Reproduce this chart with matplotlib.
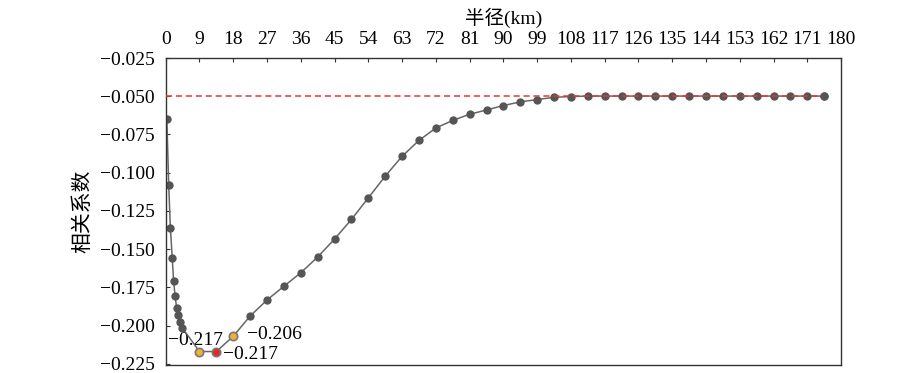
import matplotlib
matplotlib.use("Agg")
import matplotlib.pyplot as plt

# datos
radio = [0.3, 0.8, 1.25, 1.75, 2.1, 2.5, 2.9, 3.4, 3.8, 4.4,
         9, 13.5, 18, 22.5, 27, 31.5, 36, 40.5, 45, 49.5, 54, 58.5, 63, 67.5,
         72, 76.5, 81, 85.5, 90, 94.5, 99, 103.5, 108, 112.5, 117, 121.5, 126,
         130.5, 135, 139.5, 144, 148.5, 153, 157.5, 162, 166.5, 171, 175.5]
coef = [-0.065, -0.108, -0.1365, -0.156, -0.171, -0.1805, -0.1885, -0.193, -0.1975, -0.2015,
        -0.217, -0.217, -0.207, -0.1938, -0.1833, -0.1743, -0.1655, -0.1552, -0.1434, -0.1306,
        -0.1165, -0.1023, -0.0893, -0.0789, -0.0708, -0.0658, -0.0618, -0.059, -0.0561, -0.0537,
        -0.0522, -0.0507, -0.0502, -0.0499, -0.0499, -0.0499, -0.0499, -0.0499, -0.0499, -0.0499,
        -0.0499, -0.0499, -0.0499, -0.0499, -0.0499, -0.0499, -0.0499, -0.0499]
linea_ref = -0.05
# puntos destacados
destacados_x = [9, 13.5, 18]
destacados_y = [-0.217, -0.217, -0.207]
destacados_col = ["#f2b130", "#e8262a", "#f2b130"]
destacados_txt = ["\u22120.217", "\u22120.217", "\u22120.206"]

xticks = list(range(0, 181, 9))
yticks = [-0.025, -0.05, -0.075, -0.1, -0.125, -0.15, -0.175, -0.2, -0.225]

plt.rcParams['font.family'] = ['Liberation Serif', 'Noto Sans CJK SC']
plt.rcParams['font.size'] = 14

fig = plt.figure(figsize=(9.07, 3.73), dpi=100)
ax = fig.add_axes([0.1827, 0.0215, 0.7446, 0.823])

ax.plot(radio, coef, color="#666666", lw=1.1, marker="o", markersize=5,
        markerfacecolor="#555555", markeredgecolor="#555555", zorder=2)
ax.hlines(linea_ref, 0, radio[-1], colors="#e8382c", linestyles=(0, (4, 2.5)), lw=1.1, zorder=3)
ax.plot(radio[-1], coef[-1], "o", markersize=5, color="#555555", zorder=4)

for i in range(len(destacados_x)):
    ax.plot(destacados_x[i], destacados_y[i], "o", markersize=6,
            markerfacecolor=destacados_col[i], markeredgecolor="#777777", markeredgewidth=1.2, zorder=4)

ax.annotate(destacados_txt[0], (destacados_x[0], destacados_y[0]), xytext=(-3, 8),
            textcoords="offset points", ha="center", va="center", zorder=1)
ax.annotate(destacados_txt[1], (destacados_x[1], destacados_y[1]), xytext=(4.5, -2),
            textcoords="offset points", ha="left", va="center")
ax.annotate(destacados_txt[2], (destacados_x[2], destacados_y[2]), xytext=(10, 1),
            textcoords="offset points", ha="left", va="center")

ax.set_xlim(0, 180)
ax.set_ylim(-0.2258, -0.025)
ax.xaxis.tick_top()
ax.xaxis.set_label_position("top")
ax.set_xticks(xticks)
ax.set_xticklabels([str(t) for t in xticks])
ax.set_yticks(yticks)
ax.set_yticklabels([("%.3f" % t).replace("-", "\u2212") for t in yticks])
ax.tick_params(axis="x", direction="in", length=3, pad=7, colors="#333333", labelcolor="black")
ax.tick_params(axis="y", direction="in", length=3, pad=8, colors="#333333", labelcolor="black")
for s in ax.spines.values():
    s.set_color("#333333")
    s.set_linewidth(1)

ax.set_xlabel("半径(km)", fontsize=14, labelpad=5)
ax.set_ylabel("相关系数", fontsize=15, labelpad=5)

fig.savefig("out.png", dpi=100)
